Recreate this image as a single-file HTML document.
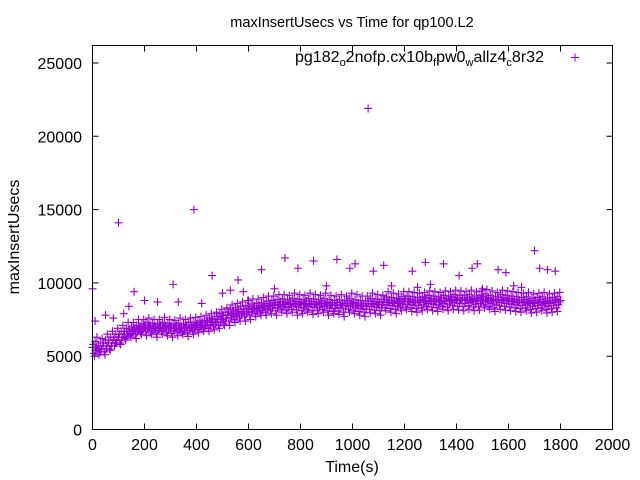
<!DOCTYPE html>
<html><head><meta charset="utf-8"><style>
body{margin:0;background:#fff}
svg{display:block;font-family:"Liberation Sans",sans-serif}
</style></head><body>
<svg id="chart" width="640" height="480" viewBox="0 0 640 480">
<rect width="640" height="480" fill="#fff"/>
<text x="352" y="27" font-size="14.5" text-anchor="middle">maxInsertUsecs vs Time for qp100.L2</text>
<text x="352" y="472" font-size="16" text-anchor="middle">Time(s)</text>
<text transform="translate(19,237) rotate(-90)" font-size="16" text-anchor="middle">maxInsertUsecs</text>
<g id="axes"></g>
<g id="marks"></g>
<text x="544" y="62" font-size="16" text-anchor="end" textLength="249" lengthAdjust="spacingAndGlyphs">pg182<tspan font-size="11" dy="4">o</tspan><tspan dy="-4">2nofp.cx10b</tspan><tspan font-size="11" dy="4">f</tspan><tspan dy="-4">pw0</tspan><tspan font-size="11" dy="4">w</tspan><tspan dy="-4">allz4</tspan><tspan font-size="11" dy="4">c</tspan><tspan dy="-4">8r32</tspan></text>
<path d="M571 57.5h8M575 53.5v8" stroke="#9400d3" stroke-width="1"/>
<rect x="92.5" y="45.5" width="520" height="384" fill="none" stroke="#000"/>
</svg>
<script>
const xTicks=[0,200,400,600,800,1000,1200,1400,1600,1800,2000];
const yTicks=[0,5000,10000,15000,20000,25000];
const stepSec=20;
const center=[5600,5500,5700,5900,6100,6300,6500,6700,6800,6900,7000,6950,6900,7000,6950,6900,6950,6900,6950,7000,7100,7150,7300,7350,7500,7600,7800,7900,8000,8050,8200,8250,8300,8400,8450,8500,8550,8500,8600,8550,8500,8600,8550,8500,8600,8500,8450,8500,8450,8600,8500,8450,8400,8600,8550,8500,8700,8650,8600,8700,8750,8700,8650,8700,8800,8750,8700,8800,8750,8850,8800,8800,8850,8750,8800,8900,8800,8700,8850,8800,8750,8700,8650,8700,8600,8650,8700,8600,8650,8700,8800];
const lower=[5200,5100,5300,5500,5700,5900,6200,6400,6500,6600,6700,6600,6600,6700,6600,6550,6650,6600,6600,6700,6800,6850,6900,7000,7100,7200,7400,7500,7600,7700,7800,7900,7950,8000,8100,8100,8200,8150,8200,8150,8100,8200,8100,8150,8200,8100,8050,8100,8000,8200,8100,8050,8000,8200,8150,8100,8300,8250,8200,8300,8350,8300,8250,8300,8400,8350,8300,8400,8350,8450,8400,8400,8450,8350,8400,8500,8400,8300,8450,8400,8350,8300,8250,8300,8200,8250,8300,8200,8250,8300,8400];
const upper=[6000,5900,6100,6300,6500,6700,6900,7000,7100,7200,7300,7250,7200,7300,7250,7200,7250,7200,7300,7300,7400,7450,7600,7700,7900,8000,8200,8300,8400,8450,8550,8600,8650,8750,8800,8850,8900,8850,8950,8900,8850,8950,8900,8850,8950,8850,8800,8850,8800,8950,8850,8800,8750,8950,8900,8850,9050,9000,8950,9050,9100,9050,9000,9050,9150,9100,9050,9150,9100,9200,9150,9150,9200,9100,9150,9250,9150,9050,9200,9150,9100,9050,9000,9050,8950,9000,9050,8950,9000,9050,9100];
const extraLow=[5000,5300,5100,5400,5900,5800,6100,6300,6200,6500,6400,6500,6300,6500,6400,6300,6400,6500,6350,6500,6600,6700,6700,6800,6900,7100,7100,7300,7400,7400,7500,7700,7800,7800,7900,7800,8000,7900,8000,7800,7900,8000,7850,7900,8000,7800,7900,7850,7700,8000,7900,7800,7700,7950,7900,7800,8100,8000,7900,8100,8200,8050,8000,8100,8200,8100,8050,8200,8100,8200,8150,8100,8200,8100,8150,8300,8200,8050,8200,8150,8100,8050,8000,8100,7950,8000,8100,7950,8000,8050,8150];
const extraHigh=[6300,6200,6500,6700,6900,7100,7300,7300,7500,7500,7600,7500,7500,7650,7500,7450,7600,7500,7600,7650,7700,7800,7900,8000,8200,8300,8500,8600,8700,8800,8900,8900,9000,9100,9100,9200,9200,9150,9300,9200,9150,9300,9200,9150,9300,9150,9100,9200,9100,9300,9200,9100,9100,9300,9200,9150,9400,9300,9250,9400,9400,9350,9300,9350,9450,9400,9350,9450,9400,9500,9450,9400,9500,9400,9450,9550,9450,9350,9500,9450,9400,9350,9300,9350,9250,9300,9350,9250,9300,9350,9400];
const outT=[0,10,100,160,390,1060,310,460,560,650,740,790,850,940,990,1010,1080,1120,1230,1280,1350,1410,1460,1480,1560,1590,1620,1700,1720,1750,1780,200,250,330,420,500,530,580,600,700,900,1150,1250,1300,1500,1650,50,80,120,140];
const outV=[9600,7400,14100,9400,15000,21900,9900,10500,10200,10900,11700,11000,11500,11600,11000,11300,10800,11200,10800,11400,11300,10500,11000,11300,10900,10700,9800,12200,11000,10900,10800,8800,8700,8700,8600,9300,9500,9400,8800,9600,9800,9800,9700,9900,9600,9700,7800,7600,7900,8400];
const X0=92.5,X1=612.5,Y0=429.5,Y25=63;
const xs=t=>X0+(t/2000)*(X1-X0);
const ys=v=>Y0-(v/25000)*(Y0-Y25);
const NS="http://www.w3.org/2000/svg";
const axes=document.getElementById('axes'),marks=document.getElementById('marks');
function mk(tag,attrs,parent){const e=document.createElementNS(NS,tag);for(const k in attrs)e.setAttribute(k,attrs[k]);parent.appendChild(e);return e;}
xTicks.forEach(t=>{const x=xs(t);
const tk=mk('path',{d:`M${x} 429.5v-6M${x} 45.5v6`,stroke:'#000'},axes);


const lb=mk('text',{x:x,y:450,'font-size':16,'text-anchor':'middle'},axes);lb.textContent=t;

});
yTicks.forEach(v=>{const y=ys(v);
const tk=mk('path',{d:`M92.5 ${y}h6M612.5 ${y}h-6`,stroke:'#000'},axes);


const lb=mk('text',{x:82,y:y+6,'font-size':16,'text-anchor':'end'},axes);lb.textContent=v;

});
function cross(t,v){const x=xs(t),y=ys(v);
const p=mk('path',{d:`M${x-4} ${y}h8M${x} ${y-4}v8`,stroke:'#9400d3','stroke-width':1.1},marks);

}
const series=[[center,0],[lower,5],[upper,10],[center,15],[extraLow,8],[extraHigh,17]];
series.forEach(([arr,off])=>arr.forEach((v,i)=>{const t=i*stepSec+off;if(t<=1800)cross(t,v);}));
lower.forEach((v,i)=>{const t=i*stepSec+12;if(t<=1800)cross(t,(v+center[i])/2);});
upper.forEach((v,i)=>{const t=i*stepSec+3;if(t<=1800)cross(t,(v+center[i])/2);});
outT.forEach((t,i)=>cross(t,outV[i]));
</script>
</body></html>
